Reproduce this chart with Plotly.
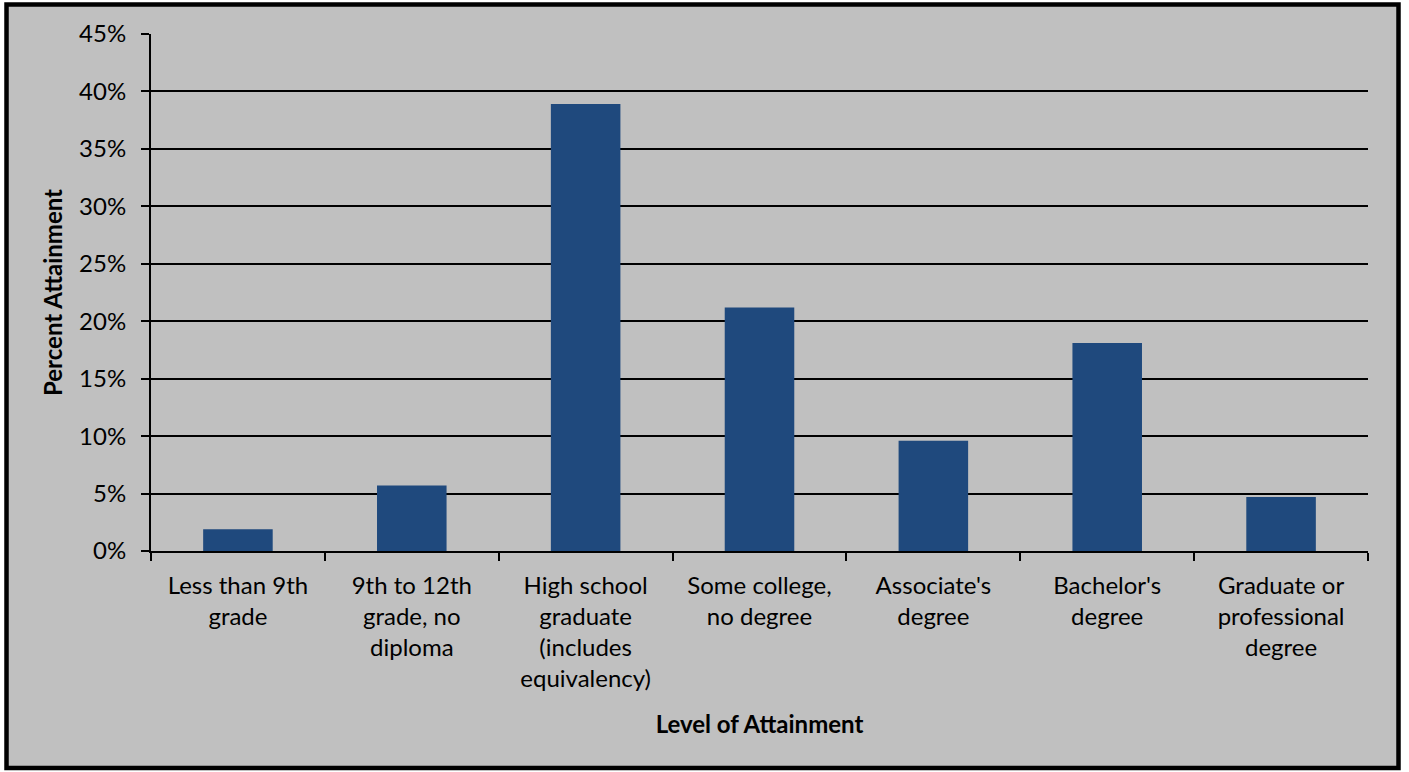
import plotly.graph_objects as go

# Educational attainment shares (percent)
categories = [
    "Less than 9th<br>grade",
    "9th to 12th<br>grade, no<br>diploma",
    "High school<br>graduate<br>(includes<br>equivalency)",
    "Some college,<br>no degree",
    "Associate's<br>degree",
    "Bachelor's<br>degree",
    "Graduate or<br>professional<br>degree",
]
values = [1.9, 5.7, 38.9, 21.2, 9.6, 18.1, 4.7]
y_ticks = [0, 5, 10, 15, 20, 25, 30, 35, 40, 45]
y_tick_labels = [f"{t}%" for t in y_ticks]

W, H = 1409, 772
L, R, T, B = 151, 41, 34, 221
pw, ph = W - L - R, H - T - B

def px_x(p):
    return (p - L) / pw

def px_y(p):
    return (H - B - p) / ph

FONT = "Lato"
FS = 24

fig = go.Figure(
    go.Bar(
        x=categories,
        y=values,
        marker=dict(color="#1F497D", line=dict(width=0)),
        width=0.4,
    )
)

fig.update_layout(
    width=W,
    height=H,
    margin=dict(l=L, r=R, t=T, b=B),
    paper_bgcolor="white",
    plot_bgcolor="rgba(0,0,0,0)",
    showlegend=False,
    font=dict(family=FONT, size=FS, color="black"),
    shapes=[
        dict(
            type="rect", xref="paper", yref="paper",
            x0=px_x(6.5), x1=px_x(1398.5), y0=px_y(768), y1=px_y(4.5),
            fillcolor="#C0C0C0", line=dict(color="black", width=4.5),
            layer="below",
        )
    ],
)

fig.update_yaxes(
    range=[0, 45],
    tickvals=y_ticks,
    ticktext=y_tick_labels,
    showgrid=True, gridcolor="black", gridwidth=1.5,
    showline=True, linecolor="black", linewidth=2,
    ticks="outside", ticklen=8, tickwidth=2, tickcolor="black",
    ticklabelstandoff=10,
    zeroline=False,
    title=dict(text="<b>Percent Attainment</b>", font=dict(size=FS), standoff=10),
)

fig.update_xaxes(
    showline=True, linecolor="black", linewidth=2,
    ticks="outside", ticklen=8, tickwidth=2, tickcolor="black",
    tickson="boundaries",
    tickangle=0,
    ticklabelstandoff=12,
    showgrid=False,
    title=dict(text="<b>Level of Attainment</b>", font=dict(size=FS), standoff=25),
)

fig.write_html("out.html")
